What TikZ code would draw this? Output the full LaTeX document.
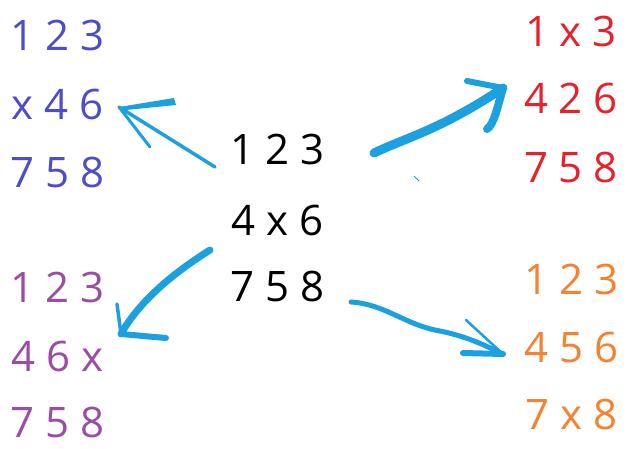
\documentclass[tikz,border=0pt]{standalone}
\usepackage{fontspec}
\setmainfont{Open Sans}
\definecolor{tblue}{RGB}{76,76,204}
\definecolor{tred}{RGB}{232,32,42}
\definecolor{tpurple}{RGB}{155,77,165}
\definecolor{torange}{RGB}{245,130,47}
\definecolor{acyan}{RGB}{27,160,224}
\tikzset{
  num/.style={inner sep=0pt, font=\fontsize{42}{50}\selectfont},
  stroke/.style={draw=acyan, line cap=round, line join=round},
}
\begin{document}
\begin{tikzpicture}[x=1pt,y=-1pt]
\useasboundingbox (0,0) rectangle (643,448);
% center
\node[num] (c1) at (277.5,149) {1 2 3};
\node[num] (c2) at (277.5,220) {4 x 6};
\node[num] (c3) at (277.5,286) {7 5 8};
% top-left blue
\node[num,text=tblue] (b1) at (57.5,35) {1 2 3};
\node[num,text=tblue] (b2) at (57.5,104) {x 4 6};
\node[num,text=tblue] (b3) at (57.5,172) {7 5 8};
% top-right red
\node[num,text=tred] (r1) at (571,31) {1 x 3};
\node[num,text=tred] (r2) at (571,98) {4 2 6};
\node[num,text=tred] (r3) at (571,167) {7 5 8};
% bottom-left purple
\node[num,text=tpurple] (p1) at (57.5,287) {1 2 3};
\node[num,text=tpurple] (p2) at (57.5,356) {4 6 x};
\node[num,text=tpurple] (p3) at (57.5,422) {7 5 8};
% bottom-right orange
\node[num,text=torange] (o1) at (571.5,279) {1 2 3};
\node[num,text=torange] (o2) at (571.5,347) {4 5 6};
\node[num,text=torange] (o3) at (571.5,414) {7 x 8};

% arrow end coordinates
\coordinate (tlS) at (215,167);
\coordinate (tlT) at (119,107);
\coordinate (trS) at (374,153);
\coordinate (trT) at (503,88);
\coordinate (blS) at (210,250);
\coordinate (blT) at (121,334);
\coordinate (brS) at (351,302);
\coordinate (brT) at (503,354);

% top-left arrow (to x 4 6)
\draw[stroke, line width=3.5pt] (tlS) -- (tlT);
\draw[stroke, line width=3pt] (tlT) -- (150,147);
\fill[acyan] (tlT) -- (174,98) -- (176,105) -- (126,110) -- cycle;

% top-right arrow (to 4 2 6)
\draw[stroke, line width=9pt] (trS) .. controls (405,138) and (440,130) .. (trT);
\draw[stroke, line width=6pt] (trT) -- (467,81);
\draw[stroke, line width=8pt] (trT) .. controls (498,105) and (494,125) .. (487,129);
\draw[acyan, line width=0.8pt] (414,176) -- (419,181);

% bottom-left arrow (to 4 6 x)
\draw[stroke, line width=7pt] (blS) .. controls (175,272) and (140,300) .. (blT);
\draw[stroke, line width=3.5pt] (blT) -- (117,304);
\draw[stroke, line width=6pt] (blT) -- (166,338);

% bottom-right arrow (to 4 5 6)
\draw[stroke, line width=5pt] (brS) .. controls (385,304) and (405,325) .. (440,331)
  .. controls (470,337) and (490,348) .. (brT);
\draw[stroke, line width=2.5pt] (brT) -- (466,320);
\draw[stroke, line width=6pt] (brT) -- (463,353);
\end{tikzpicture}
\end{document}
